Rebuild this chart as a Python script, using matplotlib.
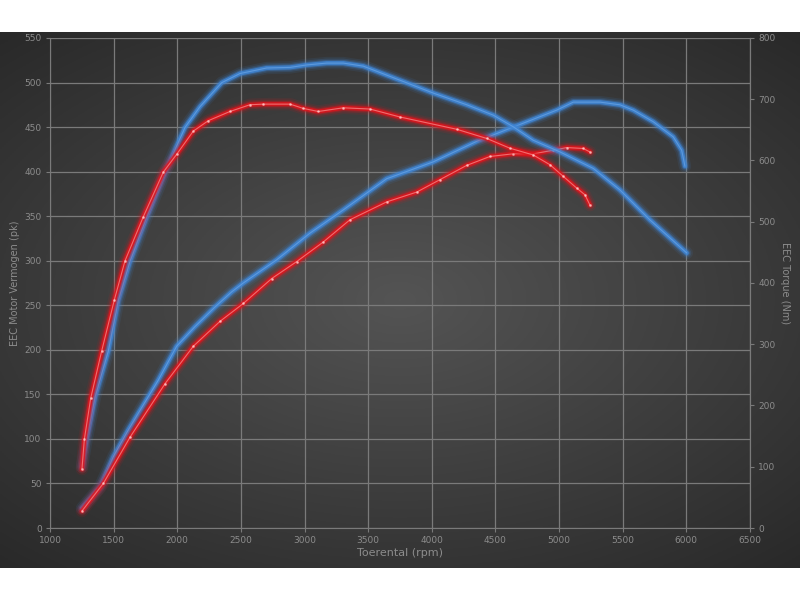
import matplotlib
matplotlib.use("Agg")
import matplotlib.pyplot as plt
import numpy as np

# Torque (Nm), right axis
rpmTorqueBlue = [1251, 1288, 1354, 1458, 1537, 1629, 1760, 1904, 2061, 2179, 2349, 2493, 2703,
                 2886, 3017, 3174, 3304, 3462, 3750, 4012, 4274, 4483, 4640, 4797, 5007, 5269,
                 5478, 5714, 6003]
torqueBlue = [100, 145, 214, 289, 372, 436, 508, 581, 654, 688, 727, 742, 751,
              752, 756, 759, 759, 754, 731, 710, 691, 674, 655, 633, 614, 587,
              552, 503, 449]

rpmTorqueRed = [1251, 1270, 1320, 1406, 1505, 1589, 1733, 1890, 1995, 2126, 2244, 2414, 2571,
                2676, 2886, 2990, 3108, 3304, 3514, 3750, 4195, 4431, 4614, 4797, 4929, 5033,
                5138, 5203, 5243]
torqueRed = [96, 145, 212, 289, 372, 436, 508, 581, 610, 648, 665, 680, 691,
             692, 692, 685, 680, 686, 684, 671, 651, 636, 620, 609, 593, 574,
             555, 544, 527]

# Power (pk), left axis
rpmPowerBlue = [1251, 1393, 1498, 1615, 1733, 1851, 1995, 2139, 2296, 2427, 2519, 2650, 2781,
                2912, 3043, 3174, 3304, 3645, 4012, 4353, 4640, 4981, 5112, 5321, 5478,
                5583, 5740, 5897, 5963, 5989]
powerBlue = [22, 46, 80, 110, 138, 166, 204, 226, 248, 265, 275, 288, 301,
             316, 331, 344, 357, 392, 411, 434, 450, 469, 478, 478, 475,
             469, 456, 439, 424, 406]

rpmPowerRed = [1251, 1419, 1629, 1904, 2126, 2336, 2519, 2742, 2938, 3147, 3357, 3645, 3881,
               4064, 4274, 4457, 4640, 4797, 4955, 5060, 5190, 5243]
powerRed = [19, 50, 102, 162, 204, 232, 252, 280, 299, 321, 346, 366, 377,
            391, 407, 417, 420, 420, 424, 427, 426, 422]

xTicks = list(range(1000, 7000, 500))
leftTicks = list(range(0, 600, 50))
rightTicks = list(range(0, 900, 100))

textColor = "#8c8c8c"
gridColor = "#7a7a7a"


def glowLine(ax, x, y, color, core, dots):
    for width, alpha in [(9, 0.10), (6.5, 0.18), (4.5, 0.35), (3, 0.8)]:
        ax.plot(x, y, color=color, linewidth=width, alpha=alpha,
                solid_capstyle="round", solid_joinstyle="round")
    ax.plot(x, y, color=core, linewidth=0.8, alpha=0.7,
            solid_capstyle="round", solid_joinstyle="round")
    if dots:
        ax.plot(x, y, linestyle="none", marker="o", markersize=1.0,
                color="#ffd0d0", alpha=0.6)


fig = plt.figure(figsize=(8, 6), dpi=100, facecolor="white")

# dark radial gradient background band
bg = fig.add_axes([0, 32 / 600, 1, 536 / 600], zorder=-10)
gx, gy = np.meshgrid(np.linspace(-1, 1, 400), np.linspace(-1, 1, 270))
r = np.sqrt((gx * 0.9) ** 2 + (gy * 1.0) ** 2)
shade = 0.33 - 0.17 * np.clip(r / 1.35, 0, 1)
bg.imshow(np.dstack([shade, shade, shade]), aspect="auto", extent=[0, 1, 0, 1])
bg.set_axis_off()

ax = fig.add_axes([0.0625, 0.12, 0.875, 0.8167])
ax.patch.set_alpha(0)
ax.set_xlim(1000, 6500)
ax.set_ylim(0, 550)
ax.set_xticks(xTicks)
ax.set_yticks(leftTicks)
ax.grid(True, color=gridColor, linewidth=0.9)
ax.tick_params(colors=textColor, labelsize=6.5, length=3, color=gridColor, pad=3)
for side in ["left", "bottom", "right", "top"]:
    ax.spines[side].set_color(gridColor)
ax.spines["top"].set_visible(False)
ax.set_xlabel("Toerental (rpm)", color=textColor, fontsize=8, va="center")
ax.xaxis.set_label_coords(0.5, -0.051)
ax.set_ylabel("EEC Motor Vermogen (pk)", color=textColor, fontsize=7,
              ha="center", va="center")
ax.yaxis.set_label_coords(-0.05, 0.5)

ax2 = ax.twinx()
ax2.set_ylim(0, 800)
ax2.set_yticks(rightTicks)
ax2.tick_params(colors=textColor, labelsize=6.5, length=3, color=gridColor, pad=3)
for side in ["left", "bottom", "right", "top"]:
    ax2.spines[side].set_visible(False)
ax2.spines["right"].set_visible(True)
ax2.spines["right"].set_color(gridColor)
ax2.set_ylabel("EEC Torque (Nm)", color=textColor, fontsize=7, rotation=270,
               ha="center", va="center")
ax2.yaxis.set_label_coords(1.05, 0.5)

glowLine(ax2, rpmTorqueBlue, torqueBlue, "#3f86d6", "#6aa6e8", False)
glowLine(ax2, rpmTorqueRed, torqueRed, "#e0141c", "#ff9090", True)
glowLine(ax, rpmPowerBlue, powerBlue, "#3f86d6", "#6aa6e8", False)
glowLine(ax, rpmPowerRed, powerRed, "#e0141c", "#ff9090", True)

fig.savefig("out.png", dpi=100, facecolor="white")
